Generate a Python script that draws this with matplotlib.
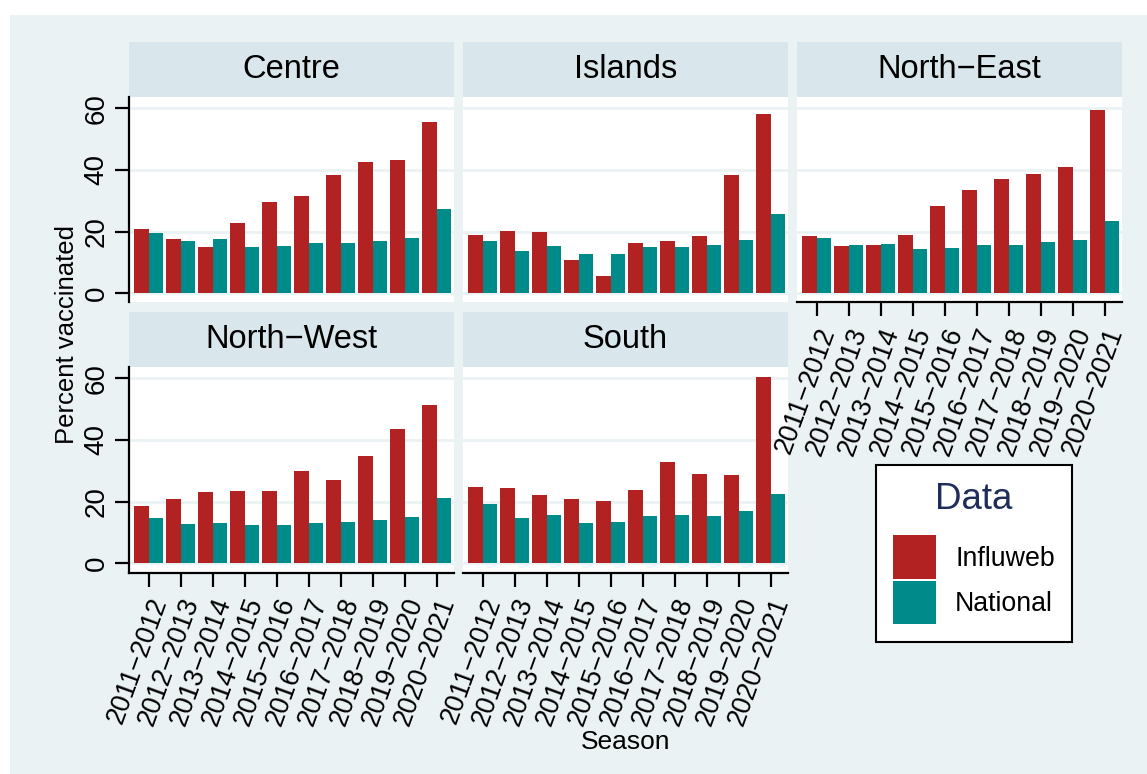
import matplotlib
matplotlib.use("Agg")
import numpy as np
import matplotlib.pyplot as plt
import matplotlib.patches as patches
import matplotlib.transforms as mtransforms

plt.rcParams['font.family'] = ['Liberation Sans', 'DejaVu Sans']

seasons = ['2011\u22122012', '2012\u22122013', '2013\u22122014', '2014\u22122015', '2015\u22122016',
           '2016\u22122017', '2017\u22122018', '2018\u22122019', '2019\u22122020', '2020\u22122021']
regions = ['Centre', 'Islands', 'North\u2212East', 'North\u2212West', 'South']

# Influweb values per region
influweb_centre = [20.9, 17.6, 15.0, 22.8, 29.6, 31.6, 38.4, 42.6, 43.2, 55.6]
influweb_islands = [18.9, 20.2, 19.9, 10.8, 5.6, 16.3, 17.0, 18.6, 38.4, 58.2]
influweb_northeast = [18.6, 15.4, 15.7, 18.9, 28.3, 33.5, 37.1, 38.7, 41.0, 59.5]
influweb_northwest = [18.7, 20.9, 23.2, 23.5, 23.5, 30.0, 27.1, 34.9, 43.7, 51.5]
influweb_south = [24.8, 24.5, 22.2, 20.9, 20.3, 23.9, 33.0, 29.1, 28.7, 60.6]

# National values per region
national_centre = [19.6, 17.0, 17.6, 15.0, 15.4, 16.3, 16.3, 17.0, 17.9, 27.4]
national_islands = [17.0, 13.7, 15.4, 12.8, 12.8, 15.0, 15.0, 15.7, 17.3, 25.7]
national_northeast = [17.9, 15.7, 16.0, 14.4, 14.7, 15.7, 15.7, 16.6, 17.3, 23.5]
national_northwest = [14.8, 12.8, 13.1, 12.5, 12.5, 13.1, 13.4, 14.1, 15.1, 21.3]
national_south = [19.3, 14.8, 15.7, 13.1, 13.4, 15.4, 15.7, 15.4, 17.0, 22.6]

influweb = [influweb_centre, influweb_islands, influweb_northeast, influweb_northwest, influweb_south]
national = [national_centre, national_islands, national_northeast, national_northwest, national_south]

red = '#B22222'
teal = '#008B8B'
bg = '#EAF2F3'
strip_col = '#D9E6EB'

W, H = 1147, 774
fig = plt.figure(figsize=(W / 100, H / 100), dpi=100, facecolor='white')

# light background panel
fig.patches.append(patches.Rectangle((10 / W, 0), 1 - 10 / W, 1 - 15 / H, transform=fig.transFigure,
                                     facecolor=bg, edgecolor='none', zorder=-10))

col_x = [129, 463, 797]
pw = 325
row_top = [97, 367]
ph = 205.5
strip_h = 55

# which panels show axes
pos = [(0, 0), (0, 1), (0, 2), (1, 0), (1, 1)]
x = np.arange(len(seasons))
bw = 0.45

axes = []
for k, (r, c) in enumerate(pos):
    left = col_x[c] / W
    bottom = 1 - (row_top[r] + ph) / H

    # strip header
    sax = fig.add_axes([left, 1 - row_top[r] / H, pw / W, strip_h / H], zorder=0)
    sax.set_facecolor(strip_col)
    sax.set_xticks([])
    sax.set_yticks([])
    for s in sax.spines.values():
        s.set_visible(False)
    sax.text(0.5, 0.5, regions[k], ha='center', va='center', fontsize=23.5, transform=sax.transAxes)

    show_y = (c == 0)
    show_x = (r == 1) or (c == 2)

    ax = fig.add_axes([left, bottom, pw / W, ph / H], zorder=3 if c == 2 else 2)
    ax.set_facecolor('white')
    ax.bar(x - bw / 2, influweb[k], width=bw, color=red, zorder=3, label='Influweb')
    ax.bar(x + bw / 2, national[k], width=bw, color=teal, zorder=3, label='National')
    ax.set_xlim(-0.617, 9.54)
    ax.set_ylim(-3.05, 63.7)
    ax.set_yticks([0, 20, 40, 60])
    for g in [0, 20, 40, 60]:
        ax.axhline(g, color=bg, lw=2, zorder=1)
    for s in ax.spines.values():
        s.set_visible(False)

    if show_y:
        ax.spines['left'].set_visible(True)
        ax.spines['left'].set_linewidth(1.6)
        ax.tick_params(axis='y', length=10, width=1.6, labelsize=20, pad=4, labelrotation=90)
        for lab in ax.get_yticklabels():
            lab.set_va('center')
    else:
        ax.tick_params(axis='y', left=False, labelleft=False)
    if show_x:
        ax.spines['bottom'].set_visible(True)
        ax.spines['bottom'].set_linewidth(1.6)
        ax.set_xticks(x)
        ax.set_xticklabels(seasons)
        ax.tick_params(axis='x', length=10, width=1.6, labelsize=19.3, pad=0)
        off = mtransforms.ScaledTranslation(0.11, -0.12, fig.dpi_scale_trans)
        for lab in ax.get_xticklabels():
            lab.set_rotation(70)
            lab.set_ha('right')
            lab.set_va('center')
            lab.set_rotation_mode('anchor')
            lab.set_transform(lab.get_transform() + off)
    else:
        ax.tick_params(axis='x', bottom=False, labelbottom=False)
    axes.append(ax)

fig.text(625.5 / W, 1 - 742 / H, 'Season', ha='center', va='center', fontsize=19)
fig.text(67 / W, 1 - 334.5 / H, 'Percent vaccinated', ha='center', va='center', rotation=90, fontsize=18.5)

handles, labels = axes[0].get_legend_handles_labels()
leg = fig.legend(handles, labels, loc='upper left', bbox_to_anchor=(876 / W, 1 - 465 / H),
                 bbox_transform=fig.transFigure, borderaxespad=0, fontsize=19.3,
                 title='Data', title_fontsize=26.5, handlelength=1.6, handleheight=2.1,
                 labelspacing=0.1, handletextpad=0.7, borderpad=0.65, fancybox=False,
                 framealpha=1, edgecolor='black')
leg.set_zorder(5)
leg.get_frame().set_linewidth(1.5)
leg.get_title().set_color('#1F2D5A')
leg._legend_box.sep = 13

fig.savefig('out.png', dpi=100, facecolor='white')
